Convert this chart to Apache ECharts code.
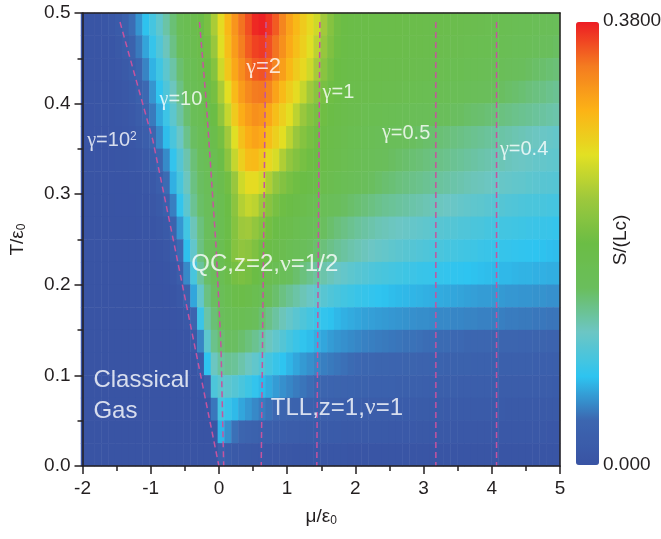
<!DOCTYPE html>
<html>
<head>
<meta charset="utf-8">
<title>S/(Lc) map</title>
<style>
  html, body { margin: 0; padding: 0; background: #fff; }
  #chart { width: 661px; height: 539px; }
</style>
<script src="https://cdn.jsdelivr.net/npm/echarts/dist/echarts.min.js"></script>
</head>
<body>
<div id="chart"></div>
<script>
// cell centres of the map (mu/eps0 columns, T/eps0 rows from bottom to top)
var muCenters = [-1.95,-1.85,-1.75,-1.65,-1.55,-1.45,-1.35,-1.25,-1.15,-1.05,-0.95,-0.85,-0.75,-0.65,-0.55,-0.45,-0.35,-0.25,-0.15,-0.05,
                 0.05,0.15,0.25,0.35,0.45,0.55,0.65,0.75,0.85,0.95,1.05,1.15,1.25,1.35,1.45,1.55,1.65,1.75,1.85,1.95,
                 2.05,2.15,2.25,2.35,2.45,2.55,2.65,2.75,2.85,2.95,3.05,3.15,3.25,3.35,3.45,3.55,3.65,3.75,3.85,3.95,
                 4.05,4.15,4.25,4.35,4.45,4.55,4.65,4.75,4.85,4.95];
var tCenters = [0.0125,0.0375,0.0625,0.0875,0.1125,0.1375,0.1625,0.1875,0.2125,0.2375,
                0.2625,0.2875,0.3125,0.3375,0.3625,0.3875,0.4125,0.4375,0.4625,0.4875];

// S/(Lc), in units of 0.01, one row per T (top row T=0.4875 first)
var entropyRows = [
  [0.3,0.3,0.4,0.5,0.9,1.6,2.7,4.1,5.7,7.5,9,10.6,12.5,14.3,16,16.8,17.5,18.5,20,23.5,
   27,30,32.5,34.5,36,37.5,37.8,37,35.5,33.5,31.5,30,28.5,27.2,25.5,23,21,19.5,18.8,18.5,
   18.4,18.3,18.3,18.2,18.2,18.1,18.1,18,18,18, 17.9,17.9,17.8,17.7,17.6,17.5,17.4,17.3,17.2,17.1,
   17,16.9,16.7,16.6,16.4,16.3,16.1,16,15.8,15.7],
  [0.3,0.3,0.3,0.4,0.6,1.1,1.9,3.0,4.6,6.3,8.1,9.8,11.7,13.7,15.5,16.5,17.2,18,19.5,22.5,
   26.5,29.5,32,34,35.5,36.5,36.8,36,34.5,32.8,31,29.5,28,26.5,24.5,22.3,20.5,19.3,18.7,18.4,
   18.3,18.2,18.2,18.1,18.1,18,18,17.9,17.9,17.8, 17.7,17.6,17.5,17.4,17.3,17.2,17.1,17,16.9,16.8,
   16.6,16.5,16.3,16.1,16,15.8,15.6,15.4,15.2,15],
  [0.3,0.3,0.3,0.3,0.5,0.8,1.3,2.2,3.4,5.0,6.9,8.7,10.5,12.5,14.5,15.8,16.7,17.5,18.8,21,
   25.5,28.8,31.2,33,34.5,35.5,35.8,35,33.5,31.8,30,28.5,27.3,25.5,23.3,21.3,19.8,19,18.5,18.2,
   18.1,18,18,17.9,17.8,17.7,17.7,17.6,17.5,17.4, 17.3,17.2,17.1,17,16.9,16.8,16.6,16.5,16.4,16.2,
   16,15.8,15.6,15.4,15.2,15,14.8,14.6,14.4,14.2],
  [0.3,0.3,0.3,0.3,0.4,0.6,1.0,1.6,2.6,3.9,5.7,7.8,9.6,11.6,13.7,15.3,16.3,17,18,19.8,
   23.5,26.8,29.8,32,33.3,34.2,34.3,33.5,31.5,29.8,28.3,27,25,23,21.3,20,19.2,18.6,18.2,17.9,
   17.8,17.7,17.6,17.5,17.4,17.3,17.2,17.1,17,16.9, 16.7,16.6,16.5,16.3,16.2,16,15.9,15.7,15.6,15.4,
   15.2,15,14.8,14.6,14.4,14.1,13.9,13.7,13.4,13.2],
  [0.2,0.2,0.3,0.3,0.3,0.5,0.7,1.2,2.0,3.1,4.6,6.5,8.5,10.5,12.6,14.5,15.8,16.6,17.5,18.8,
   21.8,25,28.5,30.8,32,32.8,32.5,31.2,29.5,28,26.8,24.5,22.5,21,20,19.3,18.7,18.2,17.8,17.5,
   17.3,17.1,17,16.8,16.7,16.5,16.4,16.2,16.1,15.9, 15.8,15.6,15.4,15.3,15.1,15,14.8,14.6,14.5,14.3,
   14.1,13.9,13.7,13.5,13.3,13.1,12.9,12.7,12.5,12.3],
  [0.2,0.2,0.2,0.2,0.3,0.3,0.5,0.8,1.3,2.2,3.5,5.2,7.3,9.3,11.3,13.5,15,16,16.8,17.8,
   19.8,23,26.5,29.3,30.8,31.5,31,29.5,28,26.8,24.5,22.5,21,20,19.3,18.7,18.2,17.8,17.4,17,
   16.8,16.5,16.3,16.1,15.9,15.7,15.5,15.3,15.1,14.9, 14.7,14.5,14.3,14.1,13.9,13.7,13.5,13.3,13.1,12.9,
   12.7,12.5,12.3,12.1,11.9,11.7,11.5,11.3,11.1,10.9],
  [0.1,0.2,0.2,0.2,0.2,0.3,0.3,0.5,0.8,1.3,2.2,3.5,5.3,7.9,10,12.2,14.2,15.4,16.2,17,
   18.5,21.5,25,28,29.6,29.8,28.7,27.3,26,23.8,22,20.8,19.9,19.3,18.8,18.3,17.9,17.5,17.1,16.7,
   16.4,16.1,15.8,15.5,15.3,15,14.8,14.6,14.4,14.2, 14,13.8,13.6,13.4,13.2,13,12.8,12.6,12.4,12.2,
   12,11.9,11.7,11.5,11.4,11.2,11,10.9,10.7,10.6],
  [0.1,0.1,0.1,0.1,0.2,0.2,0.2,0.3,0.4,0.7,1.2,2.1,4.0,6.8,9.2,11.6,13.8,15,15.8,16.5,
   17.5,19.5,22.5,25.5,27,27,25.8,23.8,22,20.8,19.9,19.3,18.8,18.4,18,17.6,17.2,16.8,16.4,16,
   15.7,15.4,15.1,14.8,14.5,14.3,14,13.8,13.6,13.4, 13.2,13,12.8,12.6,12.4,12.2,12,11.8,11.7,11.5,
   11.3,11.1,11,10.8,10.7,10.5,10.4,10.2,10.1,10],
  [0.1,0.1,0.1,0.1,0.1,0.2,0.2,0.2,0.3,0.4,0.7,1.3,2.6,4.8,7.9,10.5,13.2,14.8,15.6,16.2,
   17,18.8,21.5,24,25,24.5,22.8,21.2,20,19.2,18.6,18.1,17.6,17.1,16.6,16.1,15.7,15.3,15,14.7,
   14.4,14.1,13.8,13.5,13.2,13,12.8,12.6,12.4,12.2, 12,11.8,11.6,11.4,11.2,11,10.8,10.6,10.5,10.3,
   10.1,10,9.8,9.7,9.5,9.4,9.3,9.2,9.1,9],
  [0.1,0.1,0.1,0.1,0.1,0.1,0.1,0.1,0.2,0.3,0.4,0.7,1.4,3.1,5.8,8.8,11.8,14,15.2,15.8,
   16.8,18.5,21,22.8,23,22,20.8,19.6,18.7,18,17.6,17.1,16.6,16.1,15.6,15.1,14.6,14.1,13.7,13.3,
   12.9,12.6,12.3,12,11.8,11.6,11.4,11.2,11,10.8, 10.6,10.4,10.2,10,9.9,9.7,9.6,9.4,9.3,9.1,
   9,8.9,8.8,8.7,8.6,8.5,8.4,8.3,8.2,8],
  [0.1,0.1,0.1,0.1,0.1,0.1,0.1,0.1,0.1,0.1,0.2,0.4,0.7,1.6,3.9,7.4,10.8,13.8,15.2,15.8,
   16.8,18.8,21,21.8,21.5,20.5,19.4,18.5,17.8,17.2,16.6,16.1,15.6,15.1,14.6,14.1,13.6,13.1,12.7,12.3,
   12,11.7,11.4,11.1,10.9,10.6,10.4,10.2,10,9.8, 9.6,9.4,9.3,9.1,9,8.8,8.7,8.6,8.4,8.3,
   8.2,8.1,8,7.9,7.8,7.7,7.6,7.5,7.4,7.3],
  [0.1,0.1,0.1,0.1,0.1,0.1,0.1,0.1,0.1,0.1,0.1,0.2,0.3,0.8,2,5.2,9.2,12.8,14.8,15.6,
   16.5,18.2,19.8,20.2,19.8,19,18,17.2,16.5,15.8,15.2,14.6,14,13.4,12.8,12.3,11.8,11.3,10.9,10.5,
   10.2,9.9,9.6,9.4,9.2,9,8.8,8.6,8.5,8.3, 8.2,8.1,8,7.9,7.8,7.7,7.6,7.5,7.4,7.3,
   7.2,7.1,7.1,7,6.9,6.9,6.8,6.8,6.7,6.7],
  [0.1,0.1,0.1,0.1,0.1,0.1,0.1,0.1,0.1,0.1,0.1,0.1,0.2,0.3,0.9,2.6,6.4,10.8,13.8,15,
   15.8,17,18,18.3,17.8,17,16.2,15.4,14.6,13.8,13.1,12.5,11.9,11.3,10.7,10.2,9.7,9.3,8.9,8.6,
   8.3,8.1,7.9,7.7,7.5,7.3,7.2,7.1,7,6.9, 6.8,6.7,6.6,6.5,6.4,6.3,6.2,6.1,6,6,
   5.9,5.9,5.8,5.8,5.7,5.7,5.6,5.6,5.5,5.5],
  [0.1,0.1,0.1,0.1,0.1,0.1,0.1,0.1,0.1,0.1,0.1,0.1,0.1,0.2,0.3,1.0,3.4,8.4,12.5,14.3,
   15.2,16,16.5,16.5,16,15.3,14.5,13.6,12.7,11.8,11,10.3,9.6,9,8.4,7.9,7.5,7.1,6.8,6.6,
   6.4,6.2,6.1,6,5.9,5.8,5.7,5.6,5.5,5.4, 5.4,5.3,5.2,5.2,5.1,5.1,5,5,4.9,4.9,
   4.8,4.8,4.7,4.7,4.6,4.6,4.5,4.5,4.4,4.4],
  [0.1,0.1,0.1,0.1,0.1,0.1,0.1,0.1,0.1,0.1,0.1,0.1,0.1,0.1,0.2,0.3,1.1,5,10.5,13.5,
   14.5,15,15,14.6,14,13.3,12.5,11.6,10.7,9.9,9.1,8.4,7.8,7.3,6.8,6.4,6,5.7,5.5,5.3,
   5.1,4.9,4.8,4.7,4.6,4.5,4.4,4.3,4.3,4.2, 4.1,4.1,4,4,3.9,3.9,3.8,3.8,3.7,3.7,
   3.6,3.6,3.5,3.5,3.4,3.4,3.3,3.3,3.2,3.2],
  [0.1,0.1,0.1,0.1,0.1,0.1,0.1,0.1,0.1,0.1,0.1,0.1,0.1,0.1,0.1,0.1,0.3,1.5,7.6,11.5,
   12.8,13.2,13,12.3,11.5,10.7,9.9,9.1,8.3,7.6,7,6.4,5.9,5.5,5.1,4.8,4.6,4.4,4.2,4,
   3.9,3.8,3.7,3.6,3.5,3.4,3.4,3.3,3.3,3.2, 3.2,3.1,3.1,3,3,2.9,2.9,2.8,2.8,2.7,
   2.7,2.6,2.6,2.6,2.5,2.5,2.4,2.4,2.4,2.3],
  [0.1,0.1,0.1,0.1,0.1,0.1,0.1,0.1,0.1,0.1,0.1,0.1,0.1,0.1,0.1,0.1,0.1,0.3,2.2,9.5,
   10.5,10.5,10,9.3,8.6,7.9,7.2,6.6,6,5.5,5.1,4.7,4.4,4.1,3.8,3.6,3.4,3.3,3.2,3.1,
   3,2.9,2.8,2.8,2.7,2.7,2.6,2.6,2.5,2.5, 2.4,2.4,2.3,2.3,2.3,2.2,2.2,2.2,2.1,2.1,
   2.1,2,2,2,2,1.9,1.9,1.9,1.9,1.8],
  [0.1,0.1,0.1,0.1,0.1,0.1,0.1,0.1,0.1,0.1,0.1,0.1,0.1,0.1,0.1,0.1,0.1,0.1,0.3,4.5,
   9,8.2,7.2,6.4,5.8,5.2,4.7,4.3,3.9,3.6,3.3,3.1,2.9,2.7,2.6,2.5,2.4,2.3,2.2,2.1,
   2.1,2,2,1.9,1.9,1.9,1.8,1.8,1.8,1.7, 1.7,1.7,1.7,1.6,1.6,1.6,1.6,1.5,1.5,1.5,
   1.5,1.5,1.4,1.4,1.4,1.4,1.4,1.3,1.3,1.3],
  [0.1,0.1,0.1,0.1,0.1,0.1,0.1,0.1,0.1,0.1,0.1,0.1,0.1,0.1,0.1,0.1,0.1,0.1,0.1,0.4,
   7,5.5,4.2,3.6,3.2,2.9,2.6,2.4,2.2,2.1,2,1.9,1.8,1.7,1.6,1.6,1.5,1.5,1.4,1.4,
   1.4,1.3,1.3,1.3,1.3,1.2,1.2,1.2,1.2,1.1, 1.1,1.1,1.1,1.1,1,1,1,1,1,1,
   1,0.9,0.9,0.9,0.9,0.9,0.9,0.9,0.8,0.8],
  [0.1,0.1,0.1,0.1,0.1,0.1,0.1,0.1,0.1,0.1,0.1,0.1,0.1,0.1,0.1,0.1,0.1,0.1,0.1,0.1,
   2.5,1.8,1.4,1.2,1.1,1,0.9,0.8,0.8,0.7,0.7,0.6,0.6,0.6,0.5,0.5,0.5,0.5,0.5,0.4,
   0.4,0.4,0.4,0.4,0.4,0.4,0.4,0.4,0.4,0.4, 0.4,0.4,0.4,0.3,0.3,0.3,0.3,0.3,0.3,0.3,
   0.3,0.3,0.3,0.3,0.3,0.3,0.3,0.3,0.3,0.3]
];

// dashed constant-gamma lines, [mu, T]
var lineG100 = [[-1.45,0.49],[-0.97,0.36],[-0.67,0.25],[0.0,0.0]];
var lineG10  = [[-0.285,0.49],[-0.188,0.404],[-0.042,0.242],[0.03,0.132],[0.07,0.0]];
var lineG2   = [[0.69,0.49],[0.62,0.0]];
var lineG1   = [[1.48,0.49],[1.435,0.0]];
var lineG05  = [[3.18,0.49],[3.18,0.0]];
var lineG04  = [[4.07,0.49],[4.07,0.0]];

var xTicks = [-2,-1,0,1,2,3,4,5];
var yTicks = [0.0,0.1,0.2,0.3,0.4,0.5];
var scaleRange = [0, 38];               // 0.000 .. 0.3800
var scaleLabels = ['0.3800', '0.000'];

var ink = '#231f20';
var font = '"Liberation Sans", Arial, sans-serif';
var greek = '"Liberation Serif", "DejaVu Serif", serif';
var dash = '#c6539f';

var heat = [];
entropyRows.forEach(function (row, r) {
  var yi = entropyRows.length - 1 - r;
  row.forEach(function (v, c) { heat.push([c, yi, v]); });
});

function gammaLine(pts) {
  return {
    type: 'line', xAxisIndex: 1, yAxisIndex: 1, data: pts,
    symbol: 'none', silent: true, z: 5,
    lineStyle: { color: dash, width: 1.5, type: [6, 4] }
  };
}

var richG = function (size) {
  return {
    g: { fontFamily: greek, fontSize: size, color: '#fff' },
    sup: { fontSize: Math.round(size * 0.62), color: '#fff', verticalAlign: 'top', fontFamily: font }
  };
};

var notes = [
  { text: '{g|γ}=10{sup|2}', mu: -1.93, t: 0.359, size: 20 },
  { text: '{g|γ}=10', mu: -0.87, t: 0.404, size: 20 },
  { text: '{g|γ}=2', mu: 0.40, t: 0.440, size: 22 },
  { text: '{g|γ}=1', mu: 1.52, t: 0.412, size: 20 },
  { text: '{g|γ}=0.5', mu: 2.39, t: 0.3675, size: 20 },
  { text: '{g|γ}=0.4', mu: 4.12, t: 0.349, size: 20 },
  { text: 'QC,z=2,{g|ν}=1/2', mu: -0.405, t: 0.222, size: 24 },
  { text: 'Classical', mu: -1.84, t: 0.094, size: 24 },
  { text: 'Gas', mu: -1.84, t: 0.060, size: 24 },
  { text: 'TLL,z=1,{g|ν}=1', mu: 0.76, t: 0.064, size: 24 }
];

var chart = echarts.init(document.getElementById('chart'));

var valueAxisBase = {
  gridIndex: 1, type: 'value', z: 10,
  axisLine: { onZero: false, lineStyle: { color: ink, width: 1.5 } },
  axisTick: { length: 8, lineStyle: { color: ink, width: 1.5 } },
  minorTick: { show: true, splitNumber: 2, length: 5, lineStyle: { color: ink, width: 1.5 } },
  splitLine: { show: false },
  axisLabel: { fontSize: 19, color: ink, fontFamily: font }
};

var option = {
  animation: false,
  textStyle: { fontFamily: font },
  grid: [
    { left: 81, right: 101, top: 13, bottom: 73 },
    { left: 81, right: 101, top: 13, bottom: 73 }
  ],
  xAxis: [
    { gridIndex: 0, type: 'category', data: muCenters.map(String), show: false },
    Object.assign({}, valueAxisBase, {
      position: 'bottom',
      min: xTicks[0], max: xTicks[xTicks.length - 1], interval: 1,
      axisLabel: Object.assign({}, valueAxisBase.axisLabel, { margin: 13 }),
      name: 'μ/ε{sub|0}', nameLocation: 'middle', nameGap: 41,
      nameTextStyle: {
        fontSize: 19, color: ink, fontFamily: font,
        rich: { sub: { fontSize: 12, color: ink, verticalAlign: 'bottom', padding: [8, 0, 0, 0] } }
      }
    }),
    {
      gridIndex: 1, type: 'value', position: 'top', z: 10,
      min: xTicks[0], max: xTicks[xTicks.length - 1],
      axisLine: { onZero: false, lineStyle: { color: ink, width: 1.5 } },
      axisTick: { show: false }, axisLabel: { show: false }, splitLine: { show: false }
    }
  ],
  yAxis: [
    { gridIndex: 0, type: 'category', data: tCenters.map(String), show: false },
    Object.assign({}, valueAxisBase, {
      position: 'left',
      min: yTicks[0], max: yTicks[yTicks.length - 1], interval: 0.1,
      axisLabel: Object.assign({}, valueAxisBase.axisLabel, {
        margin: 12, formatter: function (v) { return v.toFixed(1); }
      }),
      name: 'T/ε{sub|0}', nameLocation: 'middle', nameGap: 55,
      nameTextStyle: {
        fontSize: 19, color: ink, fontFamily: font,
        rich: { sub: { fontSize: 12, color: ink, verticalAlign: 'bottom', padding: [8, 0, 0, 0] } }
      }
    }),
    {
      gridIndex: 1, type: 'value', position: 'right', z: 10,
      min: yTicks[0], max: yTicks[yTicks.length - 1],
      axisLine: { onZero: false, lineStyle: { color: ink, width: 1.5 } },
      axisTick: { show: false }, axisLabel: { show: false }, splitLine: { show: false }
    }
  ],
  visualMap: {
    type: 'continuous', min: scaleRange[0], max: scaleRange[1],
    dimension: 2, seriesIndex: 0, calculable: false, hoverLink: false,
    orient: 'vertical', left: 576, top: 22, padding: 0,
    itemWidth: 23, itemHeight: 443,
    inRange: {
      color: ['#3953a4', '#3c66b0', '#2ec4f0', '#6cc6c4', '#6abe5c', '#6bbd45',
              '#9dc83c', '#e2e023', '#fcb316', '#f47c20', '#ed1c24']
    }
  },
  graphic: [
    { type: 'text', x: 603, y: 21, style: { text: scaleLabels[0], font: '19px ' + font, fill: ink, textVerticalAlign: 'middle' } },
    { type: 'text', x: 603, y: 465, style: { text: scaleLabels[1], font: '19px ' + font, fill: ink, textVerticalAlign: 'middle' } },
    { type: 'text', x: 621, y: 240, rotation: Math.PI / 2,
      style: { text: 'S/(Lc)', font: '19px ' + font, fill: ink, textAlign: 'center', textVerticalAlign: 'middle' } }
  ],
  series: [
    {
      type: 'heatmap', xAxisIndex: 0, yAxisIndex: 0, data: heat,
      silent: true, progressive: 0, emphasis: { disabled: true }
    },
    gammaLine(lineG100), gammaLine(lineG10), gammaLine(lineG2),
    gammaLine(lineG1), gammaLine(lineG05), gammaLine(lineG04),
    {
      type: 'scatter', xAxisIndex: 1, yAxisIndex: 1, symbolSize: 0, silent: true, z: 8,
      data: notes.map(function (n) {
        return {
          value: [n.mu, n.t],
          label: {
            show: true, position: 'right', distance: 0,
            formatter: n.text, color: '#fff', fontSize: n.size, fontFamily: font,
            rich: richG(n.size)
          }
        };
      })
    }
  ]
};

chart.setOption(option);
</script>
</body>
</html>
